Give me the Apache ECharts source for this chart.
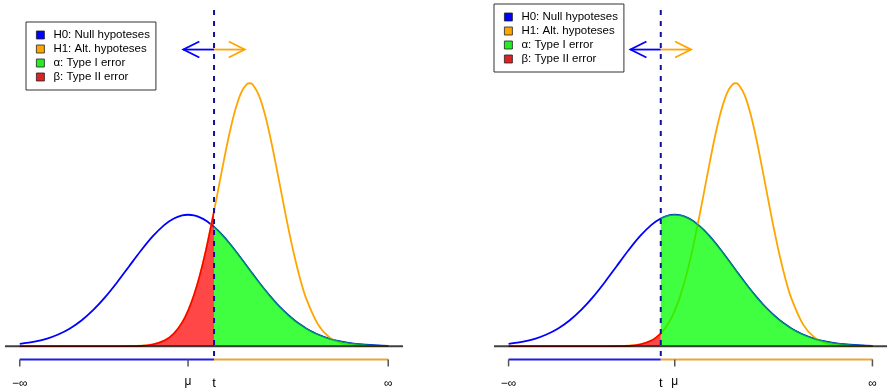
<!DOCTYPE html>
<html>
<head>
<meta charset="utf-8">
<script src="https://cdn.jsdelivr.net/npm/echarts@6/dist/echarts.min.js"></script>
<style>
  html, body { margin: 0; padding: 0; background: #fff; }
  #chart { width: 887px; height: 389px; }
</style>
</head>
<body>
<div id="chart"></div>
<script>
// x in units of the H0 spread, mu of H0 at 0
const xs = [-2.85, -2.6, -2.4, -2.2, -2.0, -1.8, -1.6, -1.4, -1.2, -1.0, -0.8, -0.6, -0.4, -0.24, -0.1,
  0.0, 0.1, 0.2, 0.3, 0.44, 0.5, 0.6, 0.7, 0.8, 0.9, 1.0, 1.05, 1.1, 1.2, 1.3, 1.4, 1.5, 1.6, 1.7,
  1.8, 1.9, 2.0, 2.2, 2.4, 2.6, 2.8, 3.0, 3.2, 3.39];
// H0 density
const h0 = [0.0069, 0.0136, 0.0224, 0.0355, 0.0540, 0.0790, 0.1109, 0.1497, 0.1942, 0.2420, 0.2897,
  0.3332, 0.3683, 0.3876, 0.3970, 0.3989, 0.3970, 0.3910, 0.3814, 0.3621, 0.3521, 0.3332, 0.3123,
  0.2897, 0.2661, 0.2420, 0.2299, 0.2179, 0.1942, 0.1714, 0.1497, 0.1295, 0.1109, 0.0940, 0.0790,
  0.0656, 0.0540, 0.0355, 0.0224, 0.0136, 0.0079, 0.0044, 0.0024, 0.0013];
// H1 density
const h1 = [0, 0, 0, 0, 0, 0, 0, 0, 0, 0.0004, 0.0015, 0.0055, 0.0173, 0.0386, 0.0722, 0.1080, 0.1558,
  0.2164, 0.2899, 0.4101, 0.4654, 0.5578, 0.6444, 0.7174, 0.7696, 0.7956, 0.7978, 0.7927, 0.7611,
  0.7042, 0.6279, 0.5396, 0.4469, 0.3566, 0.2743, 0.2033, 0.1452, 0.0663, 0.0261, 0.0089, 0.0026,
  0.0007, 0.0001, 0];

const cutoffs = [0.44, -0.24];          // t in left / right panel
const mu = 0;
const negInf = -2.85, posInf = 3.39;
const tickVals = [negInf, mu, posInf];
const tickLabels = ['−∞', 'μ', '∞'];
const axisY = -0.04;
const arrowY = 0.9, arrowLen = 0.52;

const names = ['H0: Null hypoteses', 'H1: Alt. hypoteses', 'α: Type I error', 'β: Type II error'];
const legendColors = ['#0000ff', '#ffa500', '#22ee22', '#dd2222'];
const legendPos = [[26, 22], [494, 4]];
const gridLeft = [5, 494];

const FONT = '"Liberation Sans", Arial, Helvetica, sans-serif';

function decor(t) {
  return function (params, api) {
    const p = (x, y) => api.coord([x, y]);
    const seg = (a, b, stroke, w, dash) => ({
      type: 'line',
      shape: { x1: a[0], y1: a[1], x2: b[0], y2: b[1] },
      style: { stroke: stroke, lineWidth: w, lineDash: dash || null }
    });
    const txt = (x, y, s, size) => ({
      type: 'text', x: x, y: y,
      style: { text: s, fill: '#000', fontSize: size, fontFamily: FONT,
        align: 'center', verticalAlign: 'middle', textAlign: 'center', textVerticalAlign: 'middle' }
    });
    const top = p(t, 1.02), foot = p(t, axisY);
    const a0 = p(negInf, axisY), a1 = p(posInf, axisY);
    const mid = p(t, arrowY), tipL = p(t - arrowLen, arrowY), tipR = p(t + arrowLen, arrowY);
    const kids = [];
    // zero line, drawn over the shaded areas
    kids.push(seg(p(-3.1, 0), p(3.64, 0), 'rgba(0,0,0,0.75)', 2));
    // bottom axis, split at t
    kids.push(seg(a0, foot, '#1f1fdf', 2));
    kids.push(seg(foot, a1, '#eaa53a', 2));
    tickVals.forEach(v => {
      const c = p(v, axisY);
      kids.push(seg(c, [c[0], c[1] + 7], '#555', 1.5));
    });
    tickVals.forEach((v, k) => {
      const c = p(v, axisY);
      kids.push(txt(c[0], c[1] + (k === 1 ? 22 : 24), tickLabels[k], 12));
    });
    kids.push(txt(foot[0], foot[1] + 24, 't', 13));
    // cutoff
    kids.push(seg(top, foot, '#10109a', 2, [5, 6]));
    // arrows
    kids.push(seg(mid, tipL, '#0000ff', 1.8));
    kids.push({ type: 'polyline', shape: { points: [[tipL[0] + 16, tipL[1] - 8], tipL, [tipL[0] + 16, tipL[1] + 8]] },
      style: { stroke: '#0000ff', fill: 'none', lineWidth: 1.8 } });
    kids.push(seg(mid, tipR, '#ffa500', 1.8));
    kids.push({ type: 'polyline', shape: { points: [[tipR[0] - 16, tipR[1] - 8], tipR, [tipR[0] - 16, tipR[1] + 8]] },
      style: { stroke: '#ffa500', fill: 'none', lineWidth: 1.8 } });
    return { type: 'group', children: kids };
  };
}

const series = [];
cutoffs.forEach((t, i) => {
  const base = { type: 'line', xAxisIndex: i, yAxisIndex: i, showSymbol: false, silent: true,
    smooth: 0.3 };
  series.push(Object.assign({}, base, {
    name: names[0], z: 2,
    data: xs.map((x, k) => [x, h0[k]]),
    lineStyle: { color: '#0000ff', width: 1.8 }, itemStyle: { color: '#0000ff' }
  }));
  series.push(Object.assign({}, base, {
    name: names[1], z: 2,
    data: xs.map((x, k) => [x, h1[k]]),
    lineStyle: { color: '#ffa500', width: 1.8 }, itemStyle: { color: '#ffa500' }
  }));
  series.push(Object.assign({}, base, {
    name: names[2], z: 3,
    data: xs.map((x, k) => [x, h0[k]]).filter(d => d[0] >= t),
    lineStyle: { color: 'rgba(0,150,100,0.9)', width: 1.2 },
    areaStyle: { color: 'rgba(0,255,0,0.75)', opacity: 1 }, itemStyle: { color: '#22ee22' }
  }));
  series.push(Object.assign({}, base, {
    name: names[3], z: 4,
    data: xs.map((x, k) => [x, h1[k]]).filter(d => d[0] <= t),
    lineStyle: { color: '#ff0000', width: 1.5 },
    areaStyle: { color: 'rgba(255,0,0,0.72)', opacity: 1 }, itemStyle: { color: '#dd2222' }
  }));
  series.push({
    type: 'custom', name: 'decor' + i, xAxisIndex: i, yAxisIndex: i, z: 5, silent: true,
    data: [[t, 0]], renderItem: decor(t)
  });
});

const chart = echarts.init(document.getElementById('chart'), null, { renderer: 'canvas' });
chart.setOption({
  animation: false,
  backgroundColor: '#fff',
  grid: gridLeft.map(l => ({ left: l, top: 10, width: 398, height: 356 })),
  xAxis: gridLeft.map((l, i) => ({ gridIndex: i, type: 'value', min: -3.1, max: 3.64, show: false })),
  yAxis: gridLeft.map((l, i) => ({ gridIndex: i, type: 'value', min: -0.06, max: 1.02, show: false })),
  legend: legendPos.map(pos => ({
    orient: 'vertical', left: pos[0], top: pos[1],
    selectedMode: false,
    backgroundColor: '#fff', borderColor: '#333', borderWidth: 1,
    padding: [6, 6, 6, 10],
    itemWidth: 8, itemHeight: 8, itemGap: 0, itemTextGap: 10,
    textStyle: { color: '#000', fontSize: 11.5, fontFamily: FONT, lineHeight: 14, padding: [0, 0, 0, 4] },
    data: names.map((n, k) => ({
      name: n, icon: 'rect',
      itemStyle: { color: legendColors[k], borderColor: '#222', borderWidth: 0.8 }
    }))
  })),
  series: series
});
</script>
</body>
</html>
